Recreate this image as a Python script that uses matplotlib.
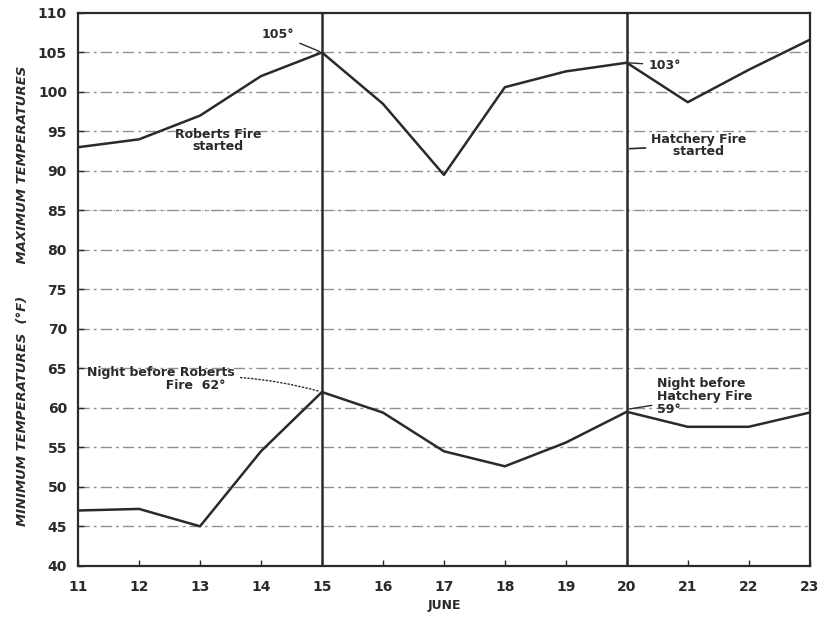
import matplotlib.pyplot as plt

days = [11, 12, 13, 14, 15, 16, 17, 18, 19, 20, 21, 22, 23]
max_temps = [93, 94, 97, 102, 105, 98.5, 89.5, 100.6, 102.6, 103.7, 98.7, 102.8, 106.6]
min_temps = [47, 47.2, 45, 54.5, 62, 59.4, 54.5, 52.6, 55.6, 59.5, 57.6, 57.6, 59.4]
fire_days = [15, 20]
y_ticks = list(range(40, 111, 5))

ink = "#2a2a2a"
plt.rcParams['font.family'] = ['DejaVu Sans']

fig = plt.figure(figsize=(8.22, 6.17), dpi=100)
ax = fig.add_axes([0.095, 0.083, 0.89, 0.896])

# rough grid lines like the scanned paper
for t in y_ticks[1:-1]:
    ax.axhline(t, color="#444444", lw=1.0, ls=(0, (8, 3, 2, 3)), alpha=0.6, zorder=1)
ax.axhline(85, color="#999999", lw=0.8, ls=":", zorder=1)

for d in fire_days:
    ax.axvline(d, color=ink, lw=1.8, zorder=2)

ax.plot(days, max_temps, color=ink, lw=1.8, zorder=3)
ax.plot(days, min_temps, color=ink, lw=1.8, zorder=3)

ax.set_xlim(11, 23)
ax.set_ylim(40, 110)
ax.set_xticks(days)
ax.set_yticks(y_ticks)
ax.tick_params(direction="in", length=4, width=1, colors=ink, labelsize=10)
ax.tick_params(axis="x", pad=10)
ax.tick_params(axis="y", pad=8)
for lab in ax.get_xticklabels() + ax.get_yticklabels():
    lab.set_fontweight("bold")
for s in ax.spines.values():
    s.set_color(ink)
    s.set_linewidth(1.6)

ax.set_xlabel("JUNE", fontsize=9, fontweight="bold", color=ink, labelpad=4)
fig.text(0.027, 0.52, "MINIMUM TEMPERATURES  (°F)       MAXIMUM TEMPERATURES",
         rotation=90, ha="center", va="center", fontsize=9.5,
         fontstyle="italic", fontweight="bold", color=ink)

txt = dict(fontsize=9, fontweight="bold", color=ink)
ax.annotate("105°", xy=(15, 105), xytext=(14.55, 107.3), ha="right", va="center",
            arrowprops=dict(arrowstyle="-", color=ink, lw=1), **txt)
ax.text(13.3, 93.8, "Roberts Fire\nstarted", ha="center", va="center",
        linespacing=0.9, **txt)
ax.annotate("103°", xy=(20, 103.7), xytext=(20.35, 103.4), ha="left", va="center",
            arrowprops=dict(arrowstyle="-", color=ink, lw=1), **txt)
ax.annotate("Hatchery Fire\n     started", xy=(20, 92.8), xytext=(20.4, 93.2),
            ha="left", va="center", linespacing=0.9,
            arrowprops=dict(arrowstyle="-", color=ink, lw=1.2), **txt)
ax.annotate("Night before Roberts\n                  Fire  62°", xy=(15, 62),
            xytext=(11.15, 63.6), ha="left", va="center", linespacing=1.0,
            arrowprops=dict(arrowstyle="-", color=ink, lw=1, ls=":",
                            connectionstyle="arc3,rad=-0.1"), **txt)
ax.annotate("Night before\nHatchery Fire\n59°", xy=(20, 59.8), xytext=(20.5, 61.4),
            ha="left", va="center", linespacing=1.0,
            arrowprops=dict(arrowstyle="-", color=ink, lw=1), **txt)

fig.savefig("out.png", dpi=100, facecolor="white")
